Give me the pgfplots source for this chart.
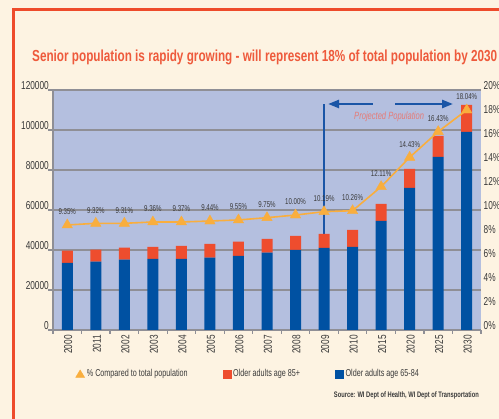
\documentclass[border=0pt]{standalone}
\usepackage{fontspec}
\setmainfont{Liberation Sans}[FakeStretch=0.72]
\usepackage{graphicx}
\usepackage{pgfplots}
\pgfplotsset{compat=1.18}
\usetikzlibrary{arrows.meta}
\definecolor{cream}{HTML}{FDF3E2}
\definecolor{framered}{HTML}{EE4B2B}
\definecolor{titlered}{HTML}{EE5A3C}
\definecolor{plotbg}{HTML}{B4BFDF}
\definecolor{gridgray}{HTML}{8F8F96}
\definecolor{barblue}{HTML}{0051A2}
\definecolor{barred}{HTML}{EE4D2E}
\definecolor{lineorange}{HTML}{F9AE3E}
\definecolor{projtext}{HTML}{E57B77}
\definecolor{arrowblue}{HTML}{1A55A6}
\definecolor{textdark}{HTML}{3A3A3A}
\begin{document}
\begin{tikzpicture}[x=1pt,y=1pt]
\useasboundingbox (0,0) rectangle (499,419);
\clip (0,0) rectangle (499,419);
\fill[cream] (0,0) rectangle (499,419);
\draw[framered, line width=3pt] (13.5,-2) -- (13.5,409.5) -- (501,409.5);
\node[anchor=west, text=titlered, font=\fontsize{16}{16}\bfseries\selectfont, inner sep=0pt] at (32,362)
  {\resizebox{465pt}{\height}{Senior population is rapidy growing - will represent 18\% of total population by 2030}};
\node[anchor=east, text=textdark, font=\fontsize{8}{8}\bfseries\selectfont, inner sep=0pt] at (479,24)
  {Source: WI Dept of Health, WI Dept of Transportation};
\coordinate (O) at (53pt,89pt);

\begin{axis}[
  at={(O)}, anchor=south west, scale only axis,
  width=428pt, height=240pt,
  xmin=-0.5, xmax=14.5, ymin=0, ymax=120000,
  ybar stacked, bar width=11pt,
  axis background/.style={fill=plotbg},
  axis x line*=bottom, axis y line*=left,
  axis line style={gridgray, line width=1.2pt, -},
  xtick={0,...,14},
  xticklabels={2000,2011,2002,2003,2004,2005,2006,2007,2008,2009,2010,2015,2020,2025,2030},
  minor xtick={-0.5,0.5,...,14.5},
  major x tick style={draw=none},
  minor tick length=4pt,
  major tick length=5pt,
  tick align=outside,
  tick style={gridgray, line width=1.2pt},
  ytick={0,20000,...,120000},
  ymajorgrids,
  grid style={gridgray, line width=1.2pt},
  scaled y ticks=false,
  yticklabel={\pgfmathprintnumber[fixed,precision=0,1000 sep={}]{\tick}},
  /pgf/number format/assume math mode=true,
  yticklabel style={font=\fontsize{11.5}{11.5}\selectfont, text=textdark, anchor=base east, inner sep=0pt, xshift=1pt},
  xticklabel style={font=\fontsize{11.5}{11.5}\selectfont, text=textdark, rotate=90, anchor=east, inner sep=0pt, yshift=-1pt},
  legend columns=3,
  legend style={draw=none, fill=none, at={(0.045,-0.183)}, anchor=west,
    font=\fontsize{10}{10}\selectfont, text=textdark,
    /tikz/every even column/.append style={column sep=33pt}},
  clip=false,
]
\addlegendimage{legend image code/.code={\fill[lineorange] (0pt,-3.5pt) -- (9pt,-3.5pt) -- (4.5pt,4pt) -- cycle;}}
\addlegendentry{\% Compared to total population}
\addlegendimage{legend image code/.code={\fill[barred] (0pt,-4pt) rectangle (8pt,4pt);}}
\addlegendentry{Older adults age 85+}
\addlegendimage{legend image code/.code={\fill[barblue] (0pt,-4pt) rectangle (8pt,4pt);}}
\addlegendentry{Older adults age 65-84}
\addplot[fill=barblue, draw=none, forget plot] coordinates {
 (0,33500) (1,34200) (2,35200) (3,35500) (4,35500) (5,36200) (6,37000) (7,38700)
 (8,40000) (9,41000) (10,41600) (11,54500) (12,71100) (13,86600) (14,99100)};
\addplot[fill=barred, draw=none, forget plot] coordinates {
 (0,6200) (1,6000) (2,6000) (3,6000) (4,6500) (5,6800) (6,7200) (7,6800)
 (8,7000) (9,7000) (10,8400) (11,8500) (12,9400) (13,10500) (14,13500)};
\draw[arrowblue, line width=1.3pt] (axis cs:9,48000) -- (axis cs:9,113000);
\draw[arrowblue, line width=2.4pt, -{Triangle[length=11pt,width=8pt]}] (axis cs:10.71,113000) -- (axis cs:9.14,113000);
\draw[arrowblue, line width=2.4pt, -{Triangle[length=11pt,width=8pt]}] (axis cs:11.49,113000) -- (axis cs:13.52,113000);
\node[text=projtext, font=\fontsize{10.5}{10.5}\itshape\selectfont] at (axis cs:11.28,106500) {Projected Population};
\end{axis}

\begin{axis}[
  at={(O)}, anchor=south west, scale only axis,
  width=428pt, height=240pt,
  xmin=-0.5, xmax=14.5, ymin=0, ymax=20,
  axis x line=none, axis y line*=right,
  y axis line style={draw=none},
  ytick={0,2,...,20},
  major tick length=0pt,
  yticklabel={\pgfmathprintnumber[fixed,precision=0]{\tick}\%},
  /pgf/number format/assume math mode=true,
  yticklabel style={font=\fontsize{11.5}{11.5}\selectfont, text=textdark, anchor=base west, inner sep=0pt, xshift=2.5pt},
  clip=false,
]
\addplot[lineorange, line width=1.6pt, mark=triangle*, mark size=6pt,
  mark options={line width=0.4pt, fill=lineorange},
  nodes near coords={\pgfplotspointmeta\%},
  point meta=explicit symbolic,
  every node near coord/.append style={font=\fontsize{8.5}{8.5}\selectfont, text=textdark, anchor=center, yshift=13pt, inner sep=0pt},
] table[meta=lab] {
x y lab
0 8.75 9.35
1 8.89 9.32
2 8.89 9.31
3 9.00 9.36
4 9.00 9.37
5 9.08 9.44
6 9.17 9.55
7 9.36 9.75
8 9.58 10.00
9 9.86 10.19
10 9.94 10.26
11 11.94 12.11
12 14.39 14.43
13 16.53 16.43
14 18.33 18.04
};
\end{axis}
\end{tikzpicture}
\end{document}
